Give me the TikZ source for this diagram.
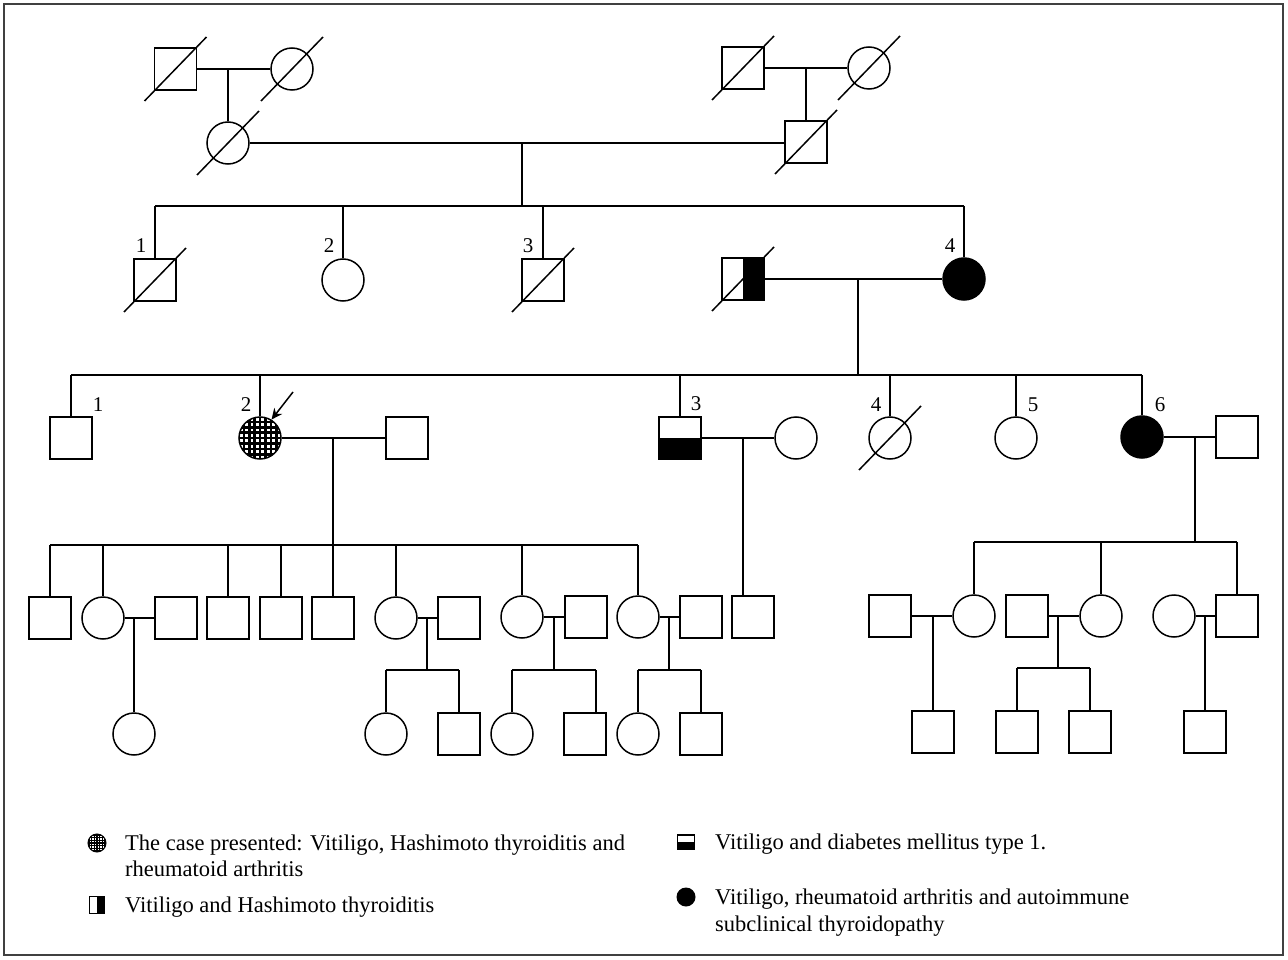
\documentclass[tikz,border=0pt]{standalone}
\usepackage{fontspec}
\setmainfont{Liberation Serif}
\usetikzlibrary{arrows.meta}
\begin{document}
\begin{tikzpicture}[x=1pt,y=-1pt,
  pline/.style={line width=1.5},
  sq/.style={rectangle, draw, line width=1.5, minimum size=42, inner sep=0},
  ci/.style={circle, draw, line width=1.5, minimum size=42, inner sep=0},
  fci/.style={ci, fill=black},
  halfr/.style={sq, path picture={\fill (path picture bounding box.north) rectangle (path picture bounding box.south east);}},
  halfb/.style={sq, path picture={\fill (path picture bounding box.west) rectangle (path picture bounding box.south east);}},
  check/.style={ci, path picture={\foreach \i in {-5,...,5} {
      \draw[line width=2.6] ([shift={(\i*5.4,-25)}]path picture bounding box.center) -- ++(0,50);
      \draw[line width=2.6] ([shift={(-25,\i*5.4)}]path picture bounding box.center) -- ++(50,0);}}},
  lab/.style={font=\fontsize{21}{22}\selectfont, inner sep=0},
  legtxt/.style={font=\fontsize{22.5}{26}\selectfont, anchor=base west, inner sep=0}
]
\useasboundingbox (0,0) rectangle (1288,960);
\draw[line width=1.6, black!75] (4,4) rectangle (1283,955);
\newcommand{\dead}[1]{\draw[pline] ([shift={(-31,32)}]#1.center) -- ([shift={(31,-32)}]#1.center);}

% Generation I
\node[sq] (a1) at (175.5,69) {};
\node[ci] (a2) at (292,69) {};
\node[ci] (a3) at (228,143) {};
\node[sq] (b1) at (743,68) {};
\node[ci] (b2) at (869,68) {};
\node[sq] (b3) at (806,142) {};
\foreach \n in {a1,a2,a3,b1,b2,b3} {\dead{\n}}
\draw[pline] (a1.east) -- (a2.west);
\coordinate (ma) at (228,69);
\draw[pline] (ma) -- (a3.north);
\draw[pline] (b1.east) -- (b2.west);
\coordinate (mb) at (806,68);
\draw[pline] (mb) -- (b3.north);
\draw[pline] (a3.east) -- (a3.east -| b3.west);
\coordinate (mab) at (522,143);
\coordinate (sab) at (522,206);
\draw[pline] (mab) -- (sab);

% Generation II
\node[sq] (c1) at (155,280) {};
\node[ci] (c2) at (343,280) {};
\node[sq] (c3) at (543,280) {};
\node[halfr] (c4) at (743,279) {};
\node[fci] (c5) at (964,279) {};
\dead{c1} \dead{c3} \dead{c4}
\draw[pline] (c1.north |- sab) -- (c5.north |- sab);
\foreach \n in {c1,c2,c3,c5} {\draw[pline] (\n.north |- sab) -- (\n.north);}
\node[lab] at (141,246) {1};
\node[lab] at (329,246) {2};
\node[lab] at (528,246) {3};
\node[lab] at (950,246) {4};
\draw[pline] (c4.east) -- (c5.west);
\coordinate (mc) at (858,279);
\coordinate (sc) at (858,375);
\draw[pline] (mc) -- (sc);

% Generation III
\node[sq] (d1) at (71,438) {};
\node[check] (d2) at (260,438) {};
\node[sq] (d2h) at (407,438) {};
\node[halfb] (d3) at (680,438) {};
\node[ci] (d3w) at (796,438) {};
\node[ci] (d4) at (890,438) {};
\node[ci] (d5) at (1016,438) {};
\node[fci] (d6) at (1142,437) {};
\node[sq] (d6h) at (1237,437) {};
\dead{d4}
\draw[pline] (d1.north |- sc) -- (d6.north |- sc);
\foreach \n in {d1,d2,d3,d4,d5,d6} {\draw[pline] (\n.north |- sc) -- (\n.north);}
\node[lab] at (98,405) {1};
\node[lab] at (246,405) {2};
\node[lab] at (696,404) {3};
\node[lab] at (876,405) {4};
\node[lab] at (1033,405) {5};
\node[lab] at (1160,405) {6};
\coordinate (arrS) at (293,392);
\draw[pline, -{Stealth[length=11,width=10]}] (arrS) -- (d2.58);
\draw[pline] (d2.east) -- (d2h.west);
\draw[pline] (d3.east) -- (d3w.west);
\draw[pline] (d6.east) -- (d6h.west);
\coordinate (md2) at (333,438);
\coordinate (sd2) at (333,545);
\coordinate (md3) at (743,438);
\coordinate (md6) at (1195,437);
\coordinate (sd6) at (1195,542);

% Generation IV left
\node[sq] (e1) at (50,618) {};
\node[ci] (e2) at (103,618) {};
\node[sq] (e2h) at (176,618) {};
\node[sq] (e3) at (228,618) {};
\node[sq] (e4) at (281,618) {};
\node[sq] (e5) at (333,618) {};
\node[ci] (e6) at (396,618) {};
\node[sq] (e6h) at (459,618) {};
\node[ci] (e7) at (522,617) {};
\node[sq] (e7h) at (586,617) {};
\node[ci] (e8) at (638,617) {};
\node[sq] (e8h) at (701,617) {};
\node[sq] (e9) at (753,617) {};
\draw[pline] (md2) -- (sd2);
\draw[pline] (e1.north |- sd2) -- (e8.north |- sd2);
\foreach \n in {e1,e2,e3,e4,e5,e6,e7,e8} {\draw[pline] (\n.north |- sd2) -- (\n.north);}
\draw[pline] (md3) -- (md3 |- e9.north);
\draw[pline] (e2.east) -- (e2h.west);
\draw[pline] (e6.east) -- (e6h.west);
\draw[pline] (e7.east) -- (e7h.west);
\draw[pline] (e8.east) -- (e8h.west);

% Generation IV right
\node[sq] (f1h) at (890,616) {};
\node[ci] (f1) at (974,616) {};
\node[sq] (f2h) at (1027,616) {};
\node[ci] (f2) at (1101,616) {};
\node[ci] (f3) at (1174,616) {};
\node[sq] (f3s) at (1237,616) {};
\draw[pline] (md6) -- (sd6);
\draw[pline] (f1.north |- sd6) -- (f3s.north |- sd6);
\foreach \n in {f1,f2,f3s} {\draw[pline] (\n.north |- sd6) -- (\n.north);}
\draw[pline] (f1h.east) -- (f1.west);
\draw[pline] (f2h.east) -- (f2.west);
\draw[pline] (f3.east) -- (f3s.west);

% Generation V
\node[ci] (g1) at (134,734) {};
\node[ci] (g2) at (386,734) {};
\node[sq] (g3) at (459,734) {};
\node[ci] (g4) at (512,734) {};
\node[sq] (g5) at (585,734) {};
\node[ci] (g6) at (638,734) {};
\node[sq] (g7) at (701,734) {};
\node[sq] (h1) at (933,732) {};
\node[sq] (h2) at (1017,732) {};
\node[sq] (h3) at (1090,732) {};
\node[sq] (h4) at (1205,732) {};

\coordinate (me2) at (134,618);
\draw[pline] (me2) -- (g1.north);
\coordinate (me6) at (427,618); \coordinate (se6) at (427,670);
\draw[pline] (me6) -- (se6);
\draw[pline] (g2.north |- se6) -- (g3.north |- se6);
\draw[pline] (g2.north |- se6) -- (g2.north);
\draw[pline] (g3.north |- se6) -- (g3.north);
\coordinate (me7) at (554,617); \coordinate (se7) at (554,670);
\coordinate (g5top) at (596,670);
\draw[pline] (me7) -- (se7);
\draw[pline] (g4.north |- se7) -- (g5top);
\draw[pline] (g4.north |- se7) -- (g4.north);
\draw[pline] (g5top) -- (g5top |- g5.north);
\coordinate (me8) at (669,617); \coordinate (se8) at (669,670);
\draw[pline] (me8) -- (se8);
\draw[pline] (g6.north |- se8) -- (g7.north |- se8);
\draw[pline] (g6.north |- se8) -- (g6.north);
\draw[pline] (g7.north |- se8) -- (g7.north);

\coordinate (mf1) at (933,616);
\draw[pline] (mf1) -- (h1.north);
\coordinate (mf2) at (1058,616); \coordinate (sf2) at (1058,668);
\draw[pline] (mf2) -- (sf2);
\draw[pline] (h2.north |- sf2) -- (h3.north |- sf2);
\draw[pline] (h2.north |- sf2) -- (h2.north);
\draw[pline] (h3.north |- sf2) -- (h3.north);
\coordinate (mf3) at (1205,616);
\draw[pline] (mf3) -- (h4.north);

% Legend
\node[circle, draw, line width=1, minimum size=18, inner sep=0,
  path picture={\foreach \i in {-4,...,4} {
      \draw[line width=1.2] ([shift={(\i*2.6,-11)}]path picture bounding box.center) -- ++(0,22);
      \draw[line width=1.2] ([shift={(-11,\i*2.6)}]path picture bounding box.center) -- ++(22,0);}}] (k1) at (97,843) {};
\node[legtxt] (t1a) at (125,850) {The case presented: Vitiligo, Hashimoto thyroiditis and};
\node[legtxt] (t1b) at (125,876) {rheumatoid arthritis};
\node[rectangle, draw, line width=1.3, minimum width=15, minimum height=17, inner sep=0,
  path picture={\fill (path picture bounding box.north) rectangle (path picture bounding box.south east);}] (k2) at (97,905) {};
\node[legtxt] (t2) at (125,912) {Vitiligo and Hashimoto thyroiditis};
\node[rectangle, draw, line width=1.3, minimum width=17, minimum height=14, inner sep=0,
  path picture={\fill (path picture bounding box.west) rectangle (path picture bounding box.south east);}] (k3) at (686,842) {};
\node[legtxt] (t3) at (715,849) {Vitiligo and diabetes mellitus type 1.};
\node[circle, fill=black, minimum size=19, inner sep=0] (k4) at (686,897) {};
\node[legtxt] (t4a) at (715,904) {Vitiligo, rheumatoid arthritis and autoimmune};
\node[legtxt] (t4b) at (715,931) {subclinical thyroidopathy};
\end{tikzpicture}
\end{document}
